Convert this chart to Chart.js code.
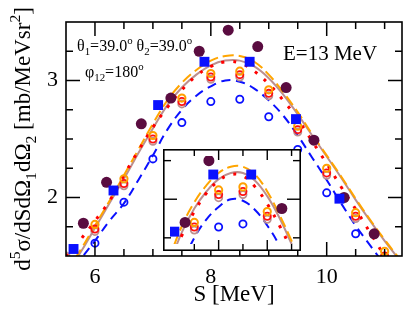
<!DOCTYPE html>
<html><head><meta charset="utf-8">
<script src="https://cdn.jsdelivr.net/npm/chart.js@4.4.1/dist/chart.umd.min.js"></script>
<style>
html,body{margin:0;padding:0;background:#fff;}
#wrap{position:relative;width:409px;height:311px;overflow:hidden;}
#main{position:absolute;left:0;top:0;}
#inset{position:absolute;left:163px;top:149px;}
</style></head><body>
<div id="wrap">
<canvas id="main" width="409" height="311"></canvas>
<canvas id="inset" width="138" height="102"></canvas>
</div>
<script>
// ---- data ----
const curveX = [5.5,5.75,6.0,6.25,6.5,6.75,7.0,7.25,7.5,7.75,8.0,8.25,8.5,8.75,9.0,9.25,9.5,9.75,10.0,10.25,10.5,10.75,11.0,11.25];
const orangeDash = [1.36,1.55,1.76,1.97,2.19,2.41,2.63,2.83,2.98,3.09,3.17,3.21,3.21,3.16,3.05,2.90,2.73,2.54,2.36,2.18,1.99,1.81,1.64,1.48];
const roseLine   = [1.35,1.53,1.74,1.95,2.16,2.38,2.59,2.79,2.94,3.05,3.13,3.17,3.17,3.12,3.02,2.88,2.71,2.53,2.35,2.17,1.98,1.80,1.63,1.47];
const redDot     = [1.50,1.64,1.80,1.97,2.19,2.40,2.60,2.77,2.92,3.04,3.12,3.16,3.15,3.08,2.97,2.83,2.67,2.48,2.29,2.09,1.90,1.70,1.50,1.32];
const blueDash   = [1.30,1.47,1.63,1.80,1.95,2.15,2.36,2.58,2.75,2.87,2.95,3.00,2.99,2.93,2.83,2.70,2.53,2.34,2.15,1.95,1.76,1.59,1.43,1.28];

const purpleX = [5.80,6.20,6.80,7.31,7.80,8.30,8.81,9.30,9.78,10.30,10.82];
const purpleY = [1.78,2.13,2.63,2.85,3.25,3.43,3.29,2.94,2.49,2.00,1.69];
const squareX = [5.63,6.32,7.09,7.89,8.67,9.47,10.22];
const squareY = [1.56,2.06,2.79,3.16,3.16,2.67,1.99];
const blueOpenX = [6.0,6.5,7.0,7.5,8.0,8.5,9.0,9.5,10.0,10.5];
const blueOpenY = [1.61,1.96,2.33,2.64,2.82,2.84,2.69,2.41,2.04,1.69];
const openX = [6.0,6.5,7.0,7.5,8.0,8.5,9.0,9.5,10.0,10.5,11.0];
const orangeOpenY = [1.77,2.16,2.53,2.85,3.06,3.08,2.92,2.61,2.25,1.87,1.54];
const redOpenY    = [1.73,2.12,2.50,2.82,3.03,3.05,2.89,2.58,2.21,1.84,1.50];
const roseOpenX = [5.5,6.0,6.5,7.0,7.5,8.0,8.5,9.0,9.5,10.0,10.5,11.0];
const roseOpenY = [1.50,1.71,2.10,2.48,2.80,3.01,3.03,2.87,2.56,2.19,1.82,1.49];

const xTickLabels = [6,8,10];
const yTickLabels = [2,3];

// ---- helpers ----
const FONT = 'Liberation Serif';
function pts(xs, ys, r){
  const all = xs.map((x,i)=>({x:x, y:ys[i]}));
  if (!r) return all;
  return all.filter(p => p.x>=r.x0 && p.x<=r.x1 && p.y>=r.y0 && p.y<=r.y1);
}
function datasets(r){
  return [
    {data:pts(squareX,squareY,r), pointStyle:'rect', pointRadius:7, backgroundColor:'#0a10ff', borderWidth:0, showLine:false},
    {data:pts(purpleX,purpleY,r), pointStyle:'circle', pointRadius:5.5, backgroundColor:'#5a0c40', borderWidth:0, showLine:false},
    {data:pts(openX,orangeOpenY,r), pointStyle:'circle', pointRadius:3.6, backgroundColor:'rgba(0,0,0,0)', borderColor:'#ffa000', borderWidth:2, showLine:false},
    {data:pts(openX,redOpenY,r), pointStyle:'circle', pointRadius:3.6, backgroundColor:'rgba(0,0,0,0)', borderColor:'#ff1010', borderWidth:1.8, showLine:false},
    {data:pts(roseOpenX,roseOpenY,r), pointStyle:'circle', pointRadius:3.6, backgroundColor:'rgba(0,0,0,0)', borderColor:'#bc8f8f', borderWidth:1.8, showLine:false},
    {data:pts(blueOpenX,blueOpenY,r), pointStyle:'circle', pointRadius:3.6, backgroundColor:'rgba(0,0,0,0)', borderColor:'#0a10ff', borderWidth:1.8, showLine:false},
    {data:pts(curveX,redDot), showLine:true, pointRadius:0, borderColor:'#ff0000', borderWidth:3, borderDash:[3,9], tension:0.4, fill:false},
    {data:pts(curveX,orangeDash), showLine:true, pointRadius:0, borderColor:'#ffa500', borderWidth:2, borderDash:[11,5], tension:0.4, fill:false},
    {data:pts(curveX,roseLine), showLine:true, pointRadius:0, borderColor:'#bc8f8f', borderWidth:2, tension:0.4, fill:false},
    {data:pts(curveX,blueDash), showLine:true, pointRadius:0, borderColor:'#0a10ff', borderWidth:2, borderDash:[9,6], tension:0.4, fill:false}
  ];
}
function line(ctx,x1,y1,x2,y2){ctx.beginPath();ctx.moveTo(x1,y1);ctx.lineTo(x2,y2);ctx.stroke();}
const near = (v, arr) => arr.some(a => Math.abs(a-v) < 1e-6);

function drawRich(ctx, x, y, parts, size, align){
  const meas = parts.map(([t,k])=>{
    const s = k==='n'?size:size*0.68;
    ctx.font = s+'px "'+FONT+'"';
    return ctx.measureText(t).width;
  });
  const total = meas.reduce((a,b)=>a+b,0);
  let cx = align==='center' ? x-total/2 : x;
  parts.forEach(([t,k],i)=>{
    const s = k==='n'?size:size*0.68;
    ctx.font = s+'px "'+FONT+'"';
    const dy = k==='sub'? size*0.28 : (k==='sup'? -size*0.42 : 0);
    ctx.fillText(t, cx, y+dy);
    cx += meas[i];
  });
}

const mainDeco = {
  id:'mainDeco',
  afterDatasetsDraw(chart){
    const {ctx, chartArea:a, scales:{x,y}} = chart;
    ctx.save();
    ctx.strokeStyle='#000'; ctx.lineWidth=1.6;
    ctx.strokeRect(a.left, a.top, a.right-a.left, a.bottom-a.top);
    ctx.lineWidth=1.5;
    x.ticks.forEach(t=>{
      const px = x.getPixelForValue(t.value);
      if (px < a.left+2 || px > a.right-2) return;
      const L = near(t.value, xTickLabels) ? 14 : 7;
      line(ctx,px,a.bottom,px,a.bottom-L); line(ctx,px,a.top,px,a.top+L);
    });
    y.ticks.forEach(t=>{
      const py = y.getPixelForValue(t.value);
      if (py < a.top+2 || py > a.bottom-2) return;
      const L = near(t.value, yTickLabels) ? 14 : 7;
      line(ctx,a.left,py,a.left+L,py); line(ctx,a.right,py,a.right-L,py);
    });
    ctx.fillStyle='#000'; ctx.textBaseline='alphabetic';
    drawRich(ctx, 77, 51, [['θ','n'],['1','sub'],['=39.0','n'],['o','sup'],[' θ','n'],['2','sub'],['=39.0','n'],['o','sup']], 16, 'left');
    drawRich(ctx, 85, 77, [['φ','n'],['12','sub'],['=180','n'],['o','sup']], 16, 'left');
    drawRich(ctx, 283, 60, [['E=13 MeV','n']], 21, 'left');
    ctx.save();
    ctx.translate(30, 139);
    ctx.rotate(-Math.PI/2);
    drawRich(ctx, 0, 0, [['d','n'],['5','sup'],['σ/dSdΩ','n'],['1','sub'],['dΩ','n'],['2','sub'],[' [mb/MeVsr','n'],['2','sup'],[']','n']], 23, 'center');
    ctx.restore();
    ctx.restore();
  }
};

new Chart(document.getElementById('main'), {
  type:'scatter',
  data:{datasets:datasets(null)},
  options:{
    responsive:false, animation:false, devicePixelRatio:1,
    layout:{padding:{top:22,right:4,left:0,bottom:0}},
    plugins:{legend:{display:false}, tooltip:{enabled:false}},
    scales:{
      x:{type:'linear', min:5.5, max:11.3,
         grid:{display:false, drawTicks:false}, border:{display:false},
         ticks:{stepSize:0.5, includeBounds:false, autoSkip:false, maxRotation:0, padding:8, color:'#000',
                font:{family:FONT, size:22},
                callback:v=> near(v,xTickLabels) ? String(v) : ''},
         title:{display:true, text:'S [MeV]', color:'#000', font:{family:FONT, size:23}, padding:{top:0,bottom:2}},
         afterFit:s=>{s.height=55;}},
      y:{type:'linear', min:1.5, max:3.5,
         grid:{display:false, drawTicks:false}, border:{display:false},
         ticks:{stepSize:0.25, includeBounds:false, autoSkip:false, padding:8, color:'#000',
                font:{family:FONT, size:22},
                callback:v=> near(v,yTickLabels) ? String(v) : ''},
         afterFit:s=>{s.width=66;}}
    }
  },
  plugins:[mainDeco]
});

// ---- inset ----
const insetRange = {x0:7.0, x1:9.55, y0:2.71, y1:3.28};
const insetXTicks = [7.5,8.0,8.5,9.0,9.5];
const insetYTicks = [2.75,3.0,3.25];
const insetDeco = {
  id:'insetDeco',
  beforeDraw(chart){
    const ctx=chart.ctx; ctx.save(); ctx.fillStyle='#fff'; ctx.fillRect(0,0,chart.width,chart.height); ctx.restore();
  },
  afterDatasetsDraw(chart){
    const {ctx, scales:{x,y}} = chart;
    const W=chart.width, H=chart.height;
    ctx.save();
    ctx.strokeStyle='#000'; ctx.lineWidth=1.6;
    ctx.strokeRect(0.8,0.8,W-1.6,H-1.6);
    ctx.lineWidth=1.4;
    insetXTicks.forEach(v=>{
      const px=x.getPixelForValue(v); if(px>W-2) return;
      const L = (v===8.0||v===9.0)?11:7;
      line(ctx,px,H,px,H-L); line(ctx,px,0,px,L);
    });
    insetYTicks.forEach(v=>{
      const py=y.getPixelForValue(v);
      const L = v===3.0?14:8;
      line(ctx,0,py,L,py); line(ctx,W,py,W-L,py);
    });
    ctx.restore();
  }
};
new Chart(document.getElementById('inset'), {
  type:'scatter',
  data:{datasets:datasets(insetRange)},
  options:{
    responsive:false, animation:false, devicePixelRatio:1,
    layout:{padding:0},
    plugins:{legend:{display:false}, tooltip:{enabled:false}},
    scales:{
      x:{type:'linear', min:insetRange.x0, max:insetRange.x1, display:false},
      y:{type:'linear', min:insetRange.y0, max:insetRange.y1, display:false}
    }
  },
  plugins:[insetDeco]
});
</script>
</body></html>
